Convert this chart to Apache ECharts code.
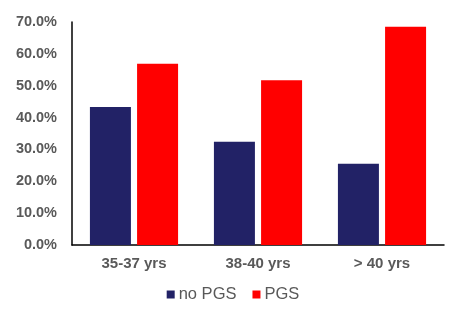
<!DOCTYPE html>
<html>
<head>
<meta charset="utf-8">
<script src="https://cdn.jsdelivr.net/npm/echarts@6/dist/echarts.min.js"></script>
<style>
    html, body { margin: 0; padding: 0; background: #fff; }
    #main { width: 466px; height: 323px; }
</style>
</head>
<body>
<div id="main"></div>
<script>
var categories = ['35-37 yrs', '38-40 yrs', '> 40 yrs'];
var noPgs = [43.3, 32.4, 25.5];
var pgs = [56.9, 51.7, 68.5];

var myChart = echarts.init(document.getElementById('main'));
var option = {
    animation: false,
    textStyle: { fontFamily: 'Liberation Sans, Arial, sans-serif' },
    legend: {
        data: ['no PGS', 'PGS'],
        bottom: 15,
        left: 'center',
        itemWidth: 8,
        itemHeight: 8,
        itemGap: 16,
        icon: 'rect',
        textStyle: { color: '#595959', fontSize: 16.5, padding: [0, 0, 0, -1] }
    },
    grid: {
        left: 72,
        right: 22,
        top: 22,
        bottom: 78
    },
    xAxis: {
        type: 'category',
        data: categories,
        axisLine: { lineStyle: { color: '#000', width: 1.5 } },
        axisTick: { show: false },
        axisLabel: { color: '#595959', fontSize: 15, fontWeight: 'bold', margin: 11 }
    },
    yAxis: {
        type: 'value',
        min: 0,
        max: 70,
        interval: 10,
        splitLine: { show: false },
        axisLine: { show: true, lineStyle: { color: '#000', width: 1.5 } },
        axisTick: { show: false },
        axisLabel: {
            color: '#595959', fontSize: 14.5, fontWeight: 'bold', margin: 15,
            formatter: function (v) { return v.toFixed(1) + '%'; }
        }
    },
    series: [
        {
            name: 'no PGS',
            type: 'bar',
            data: noPgs,
            barWidth: 41,
            barGap: '15%',
            itemStyle: { color: '#222266' }
        },
        {
            name: 'PGS',
            type: 'bar',
            data: pgs,
            barWidth: 41,
            itemStyle: { color: '#ff0000' }
        }
    ]
};
myChart.setOption(option);
</script>
</body>
</html>
